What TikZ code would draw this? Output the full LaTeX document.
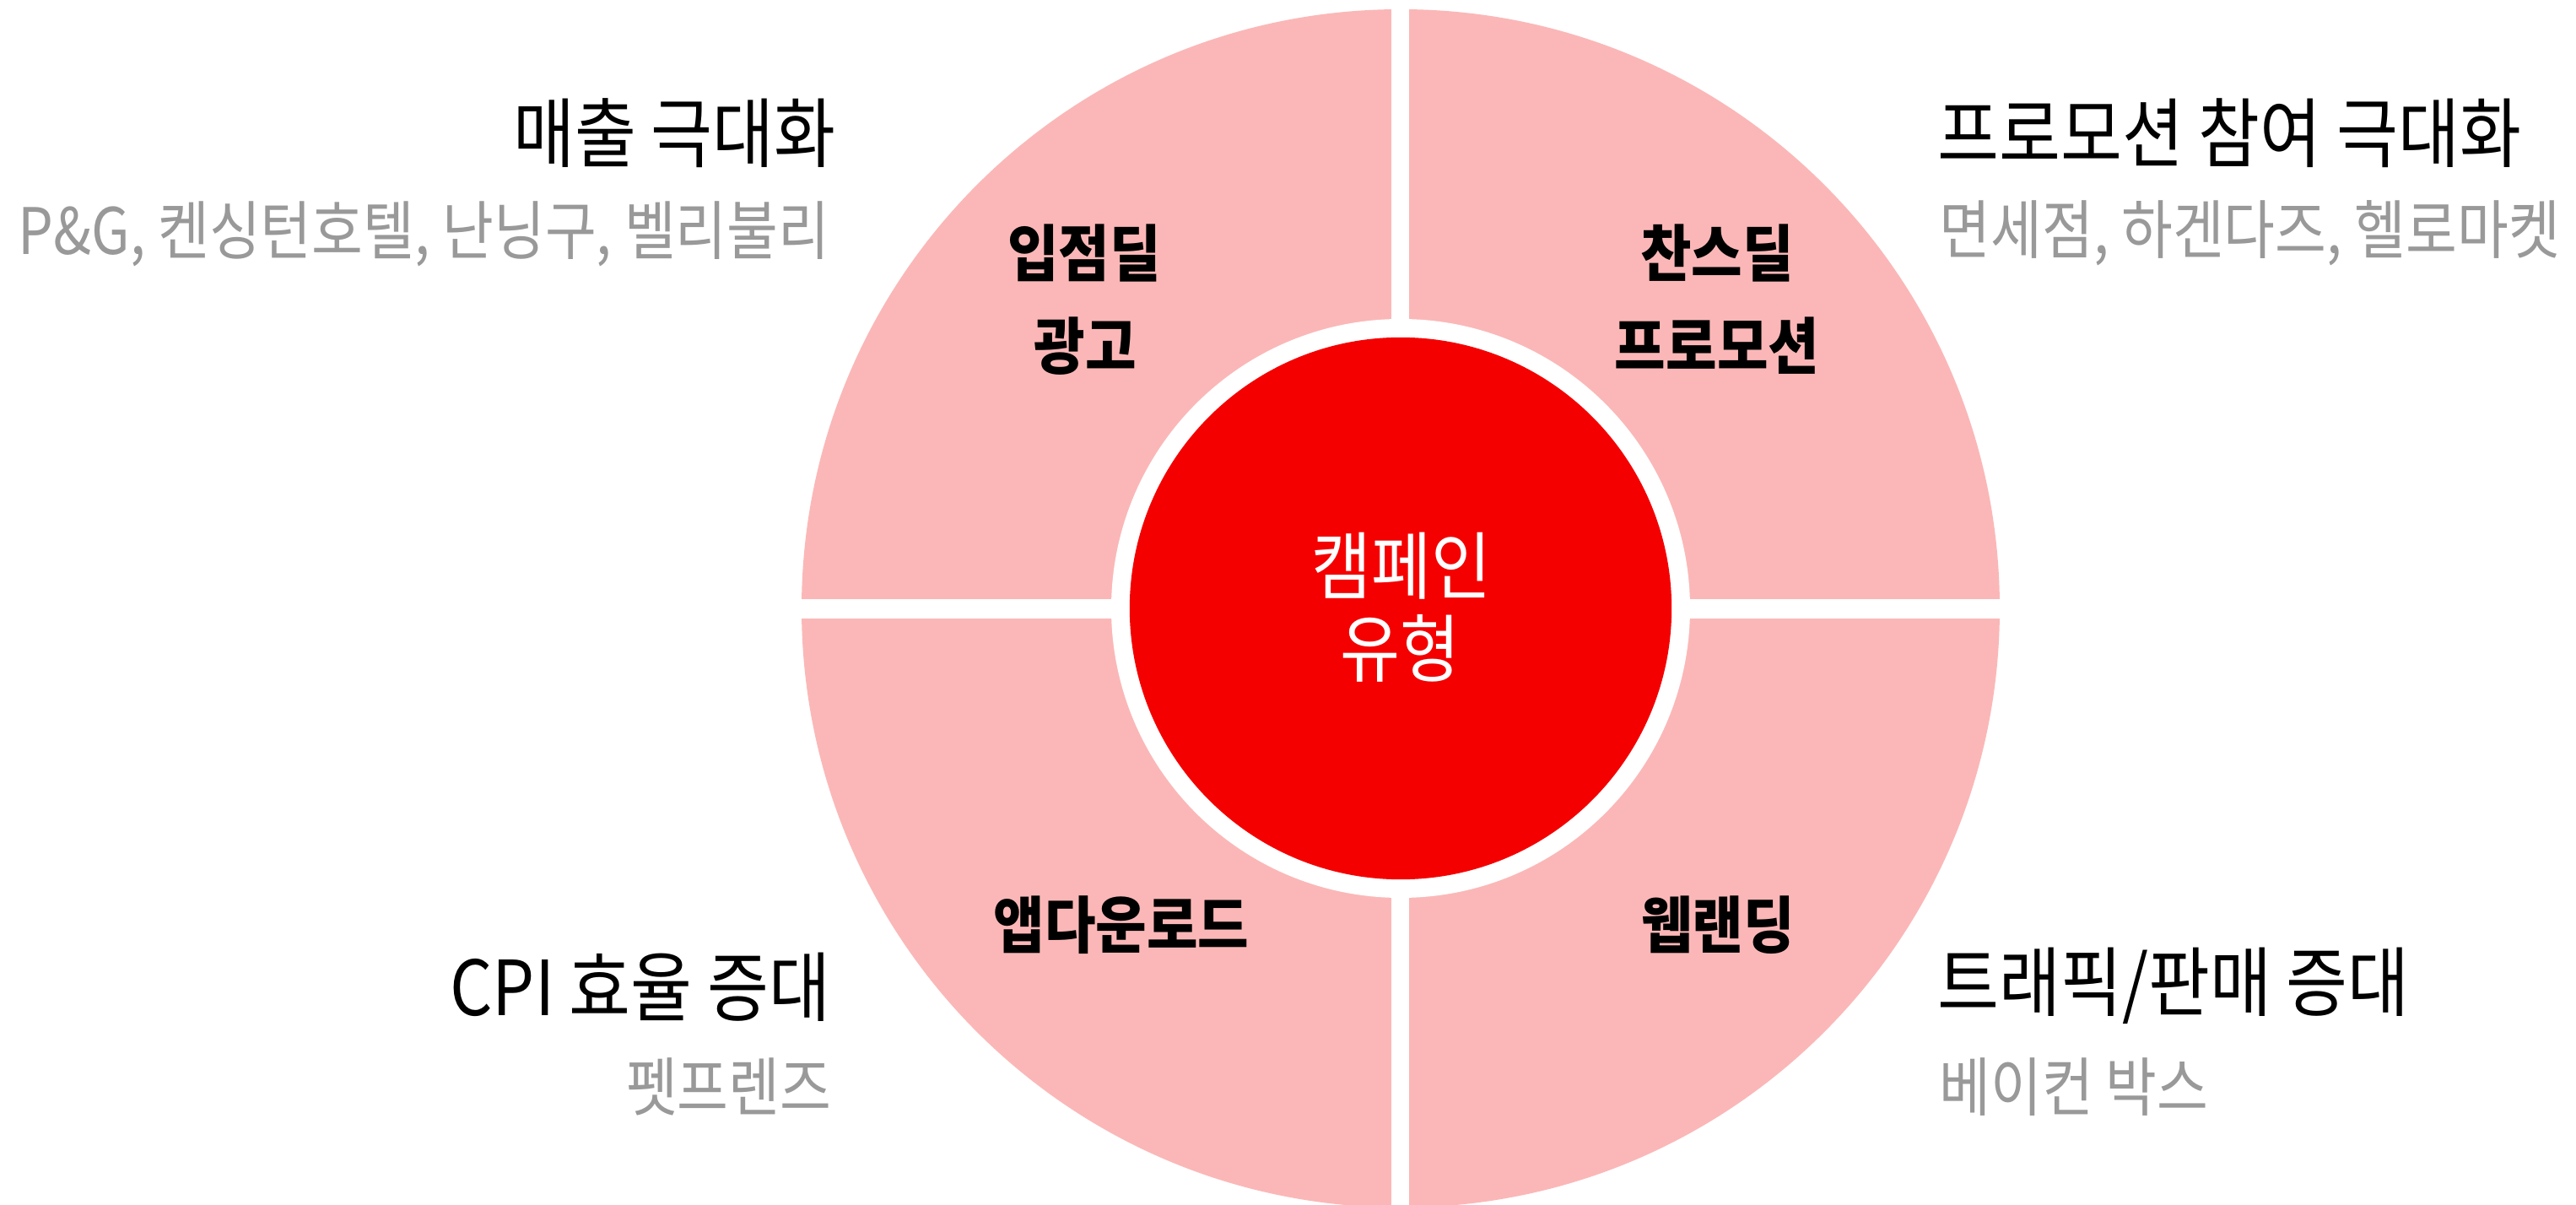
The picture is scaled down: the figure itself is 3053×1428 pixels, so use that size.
\documentclass[tikz,border=0pt]{standalone}
\usepackage{fontspec}
\newfontfamily\krhead[FakeStretch=0.88]{Noto Sans CJK KR}
\newfontfamily\krsub[FakeStretch=0.87]{Noto Sans CJK KR}
\newfontfamily\krin[FakeStretch=0.90]{Noto Sans CJK KR}
\newfontfamily\krcen[FakeStretch=0.88]{Noto Sans CJK KR}
\definecolor{ringpink}{HTML}{FBB7B7}
\definecolor{corered}{HTML}{F50000}
\definecolor{subgray}{HTML}{999999}
\tikzset{
  headtxt/.style={inner sep=0pt, font=\krhead\fontsize{25.6pt}{28pt}\selectfont, text=black},
  subtxt/.style={inner sep=0pt, font=\krsub\fontsize{21.6pt}{24pt}\selectfont, text=subgray},
  intxt/.style={inner sep=0pt, font=\krin\bfseries\fontsize{20.8pt}{23pt}\selectfont, text=black},
  centxt/.style={inner sep=0pt, font=\krcen\fontsize{24.9pt}{28pt}\selectfont, text=white},
}
\begin{document}
\begin{tikzpicture}[x=0.01cm,y=-0.01cm]
\useasboundingbox (0,0) rectangle (3053,1428);
\fill[white] (0,0) rectangle (3053,1428);
\coordinate (c) at (1660,721);
% outer ring
\fill[ringpink] (c) circle[radius=710];
% white separators
\fill[white] (1649,0) rectangle (1670,1440);
\fill[white] (940,710) rectangle (2380,733);
% white ring and red core
\fill[white] (c) circle[radius=343];
\node[circle, fill=corered, minimum size=6.42cm, inner sep=0pt] (core) at (c) {};
% center text
\node[centxt] (ct1) at (1661,671) {캠페인};
\node[centxt] (ct2) at (1659,768) {유형};
% inner labels
\node[intxt] (q1a) at (1285,300) {입점딜};
\node[intxt] (q1b) at (1286,410) {광고};
\node[intxt] (q2a) at (2035,300) {찬스딜};
\node[intxt] (q2b) at (2035,410) {프로모션};
\node[intxt] (q3) at (1329,1096) {앱다운로드};
\node[intxt] (q4) at (2036,1096) {웹랜딩};
% outer labels left
\node[headtxt, anchor=east] (h1) at (991,158) {매출 극대화};
\node[subtxt, anchor=east] (s1) at (984,277) {P\&G, 켄싱턴호텔, 난닝구, 벨리불리};
\node[headtxt, anchor=east] (h3) at (985,1170) {CPI 효율 증대};
\node[subtxt, anchor=east] (s3) at (986,1288) {펫프렌즈};
% outer labels right
\node[headtxt, anchor=west] (h2) at (2296,158) {프로모션 참여 극대화};
\node[subtxt, anchor=west] (s2) at (2298,276) {면세점, 하겐다즈, 헬로마켓};
\node[headtxt, anchor=west] (h4) at (2296,1168) {트래픽/판매 증대};
\node[subtxt, anchor=west] (s4) at (2298,1288) {베이컨 박스};
\end{tikzpicture}
\end{document}
